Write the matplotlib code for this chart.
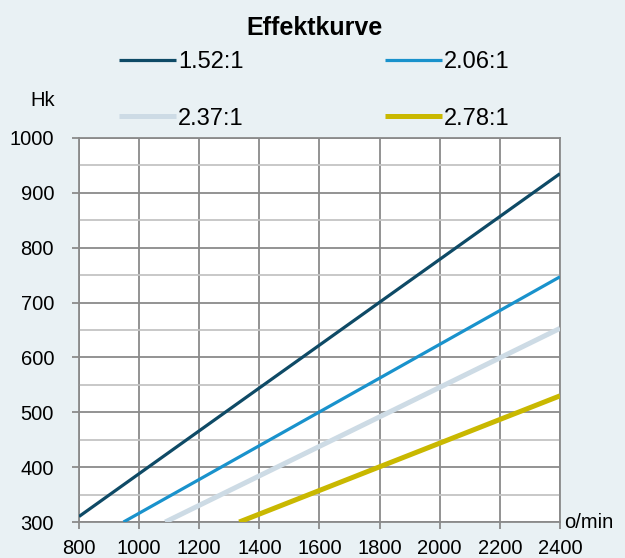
import numpy as np
import matplotlib.pyplot as plt
from matplotlib.ticker import MultipleLocator

plt.rcParams['font.family'] = ['Liberation Sans', 'DejaVu Sans']

# Effektkurve: hk mot varvtal, en linje per utväxling
ratios = ["1.52:1", "2.06:1", "2.37:1", "2.78:1"]
rpm_152 = [800, 2400]
hk_152 = [310, 935]
rpm_206 = [948, 2400]
hk_206 = [300, 747]
rpm_237 = [1087, 2400]
hk_237 = [300, 653]
rpm_278 = [1333, 2400]
hk_278 = [300, 530]

colors = ["#0e4a66", "#1992cc", "#cddbe5", "#c9b800"]
widths = [2.3, 2.3, 3.6, 3.6]
bg = "#e9f1f4"

fig = plt.figure(figsize=(6.25, 5.58), dpi=100, facecolor=bg)
ax = fig.add_axes([0.1264, 0.0645, 0.7696, 0.6882])
ax.set_facecolor("white")

series = [(rpm_152, hk_152), (rpm_206, hk_206), (rpm_237, hk_237), (rpm_278, hk_278)]
handles = []
for (x, y), lab, c, w in zip(series, ratios, colors, widths):
    h, = ax.plot(x, y, color=c, lw=w, label=lab, solid_capstyle="butt", zorder=3)
    handles.append(h)

ax.set_xlim(800, 2400)
ax.set_ylim(300, 1000)
ax.xaxis.set_major_locator(MultipleLocator(200))
ax.yaxis.set_major_locator(MultipleLocator(100))
ax.yaxis.set_minor_locator(MultipleLocator(50))
ax.grid(which="major", color="#8a8a8a", lw=1.3, zorder=1)
ax.grid(which="minor", axis="y", color="#c4c4c4", lw=1.3, zorder=1)
ax.tick_params(which="major", labelsize=14.5, length=5, width=1.3, color="#8a8a8a")
ax.tick_params(axis="y", pad=13)
ax.tick_params(axis="x", pad=7)
ax.tick_params(which="minor", length=0)
for s in ax.spines.values():
    s.set_color("#8a8a8a")
    s.set_linewidth(1.3)

fig.text(0.504, 0.950, "Effektkurve", ha="center", va="center", fontsize=18, fontweight="bold")
fig.text(0.068, 0.82, "Hk", ha="center", va="center", fontsize=14.5)
fig.text(0.903, 0.0645, "o/min", ha="left", va="center", fontsize=14.5)

# legend filled column-wise, so reorder to get rows 1.52/2.06 and 2.37/2.78
order = [0, 2, 1, 3]
leg = fig.legend([handles[i] for i in order], [ratios[i] for i in order],
                 loc="center", bbox_to_anchor=(0.503, 0.838), ncol=2, frameon=False,
                 fontsize=17, handlelength=2.4, handletextpad=0.1, columnspacing=6.0,
                 labelspacing=1.45)

fig.savefig("out.png", dpi=100, facecolor=bg)
